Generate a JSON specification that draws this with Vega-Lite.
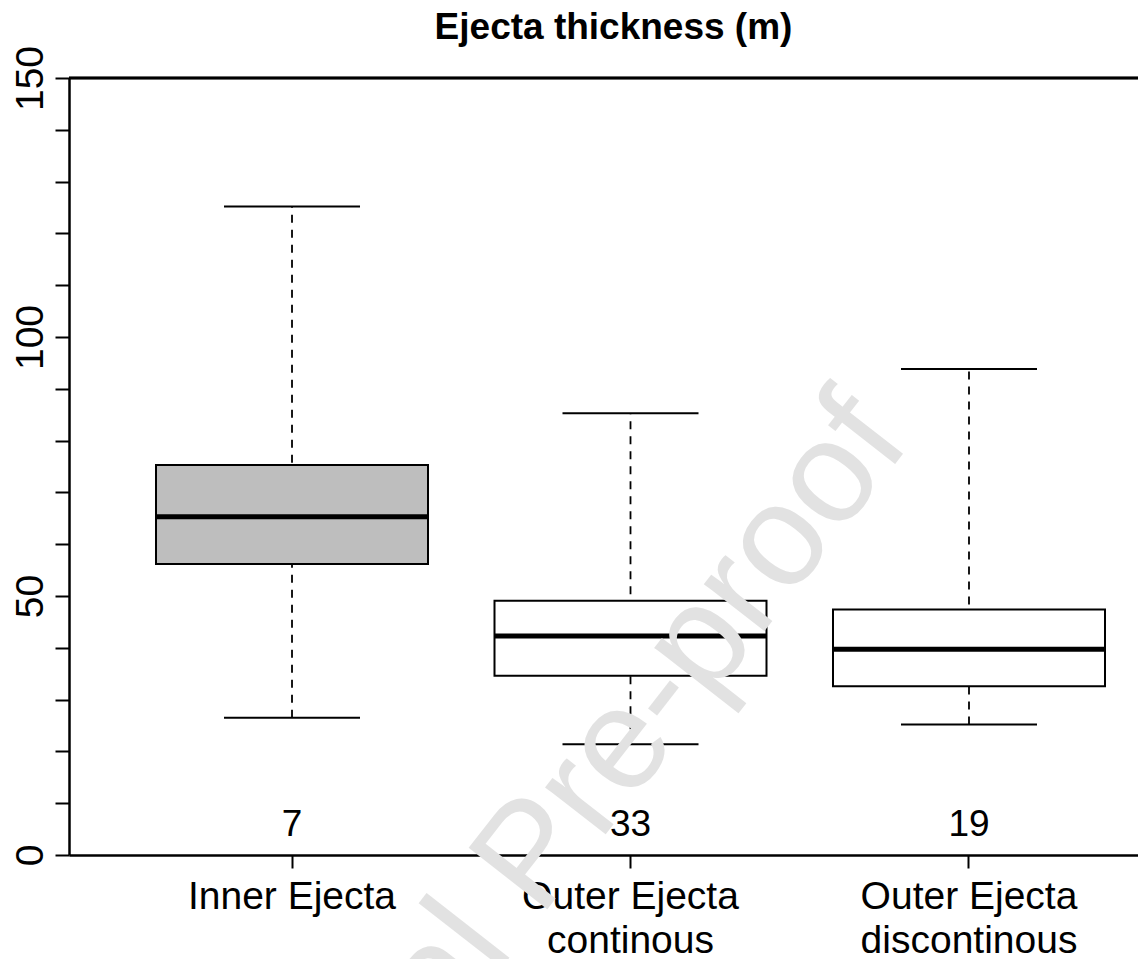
{
  "$schema": "https://vega.github.io/schema/vega-lite/v6.json",
  "width": 1069,
  "height": 777,
  "autosize": {"type": "none"},
  "padding": {"left": 69, "top": 78, "right": 0, "bottom": 104},
  "background": "white",
  "config": {
    "view": {"stroke": null},
    "font": "Liberation Sans",
    "axis": {"grid": false, "domainColor": "black", "domainWidth": 2.5, "tickColor": "black", "tickWidth": 2, "labelColor": "black", "labelFont": "Liberation Sans", "labelOverlap": false, "labelLimit": 0}
  },
  "title": {"text": "Ejecta thickness (m)", "fontSize": 37, "fontWeight": "bold", "font": "Liberation Sans", "color": "black", "anchor": "middle", "dx": 10, "offset": -39, "baseline": "bottom"},
  "data": {"values": [
    {"group": "Inner Ejecta", "lower": 26.5, "q1": 56.2, "median": 65.3, "q3": 75.3, "upper": 125.2, "n": 7},
    {"group": "Outer Ejecta continous", "lower": 21.4, "q1": 34.6, "median": 42.3, "q3": 49.1, "upper": 85.3, "n": 33},
    {"group": "Outer Ejecta discontinous", "lower": 25.2, "q1": 32.6, "median": 39.7, "q3": 47.4, "upper": 93.8, "n": 19}
  ]},
  "layer": [
    {
      "encoding": {
        "x": {"field": "group", "type": "nominal", "sort": null,
          "scale": {"paddingInner": 0.19645, "paddingOuter": 0.17727, "align": 0.725},
          "axis": {"title": null, "labelAngle": 0, "labelFontSize": 39, "labelBaseline": "top", "labelPadding": 9, "tickSize": 13, "labelLineHeight": 44,
            "labelExpr": "split(replace(datum.label, 'Ejecta ', 'Ejecta|'), '|')"}}
      },
      "layer": [
        {
          "mark": {"type": "rule", "strokeDash": [8, 7], "strokeWidth": 1.8, "color": "black"},
          "encoding": {
            "y": {"field": "lower", "type": "quantitative", "title": null,
              "scale": {"domain": [0, 150], "nice": false, "zero": false},
              "axis": {"title": null, "values": [0, 10, 20, 30, 40, 50, 60, 70, 80, 90, 100, 110, 120, 130, 140, 150],
                "labelExpr": "datum.value % 50 == 0 ? datum.label : ''",
                "labelAngle": -90, "labelAlign": "center", "labelBaseline": "alphabetic", "labelPadding": 13, "tickSize": 14, "labelFontSize": 39}},
            "y2": {"field": "upper"}
          }
        },
        {
          "mark": {"type": "tick", "orient": "horizontal", "size": 136, "thickness": 2, "color": "black", "opacity": 1},
          "encoding": {"y": {"field": "lower", "type": "quantitative", "title": null}}
        },
        {
          "mark": {"type": "tick", "orient": "horizontal", "size": 136, "thickness": 2, "color": "black", "opacity": 1},
          "encoding": {"y": {"field": "upper", "type": "quantitative", "title": null}}
        },
        {
          "mark": {"type": "bar", "stroke": "black", "strokeWidth": 2, "opacity": 1},
          "encoding": {
            "y": {"field": "q1", "type": "quantitative", "title": null},
            "y2": {"field": "q3"},
            "fill": {"field": "group", "type": "nominal", "legend": null,
              "scale": {"domain": ["Inner Ejecta", "Outer Ejecta continous", "Outer Ejecta discontinous"], "range": ["#bebebe", "#ffffff", "#ffffff"]}}
          }
        },
        {
          "mark": {"type": "tick", "orient": "horizontal", "size": 272, "thickness": 5, "color": "black", "opacity": 1},
          "encoding": {"y": {"field": "median", "type": "quantitative", "title": null}}
        },
        {
          "mark": {"type": "text", "fontSize": 37, "baseline": "alphabetic", "color": "black", "font": "Liberation Sans"},
          "encoding": {
            "y": {"datum": 3.7, "type": "quantitative"},
            "text": {"field": "n", "type": "quantitative"}
          }
        }
      ]
    },
    {
      "mark": {"type": "rule", "strokeWidth": 2.5, "color": "black"},
      "encoding": {"y": {"datum": 150, "type": "quantitative"}}
    },
    {
      "data": {"values": [{"watermark": "Journal Pre-proof", "group": "Outer Ejecta continous"}]},
      "mark": {"type": "text", "fontSize": 145, "font": "Liberation Sans", "color": "#e2e2e2", "angle": -52, "align": "center", "baseline": "middle", "dx": -159},
      "encoding": {
        "x": {"field": "group", "type": "nominal"},
        "y": {"datum": 23.9, "type": "quantitative"},
        "text": {"field": "watermark"}
      }
    }
  ]
}
